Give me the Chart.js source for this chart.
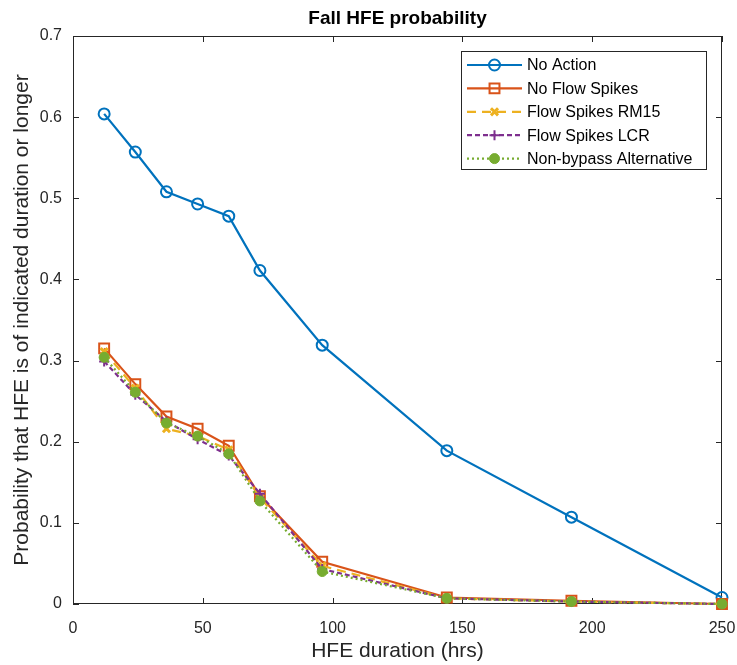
<!DOCTYPE html>
<html><head><meta charset="utf-8">
<script src="https://cdn.jsdelivr.net/npm/chart.js@4.4.0/dist/chart.umd.min.js"></script>
<style>html,body{margin:0;padding:0;background:#fff;}canvas{display:block;}</style>
</head><body>
<canvas id="c" width="737" height="665"></canvas>
<script>
const durations = [12, 24, 36, 48, 60, 72, 96, 144, 192, 250];
const noAction = [0.604, 0.557, 0.508, 0.493, 0.478, 0.411, 0.319, 0.189, 0.107, 0.008];
const noFlowSpikes = [0.315, 0.271, 0.231, 0.216, 0.195, 0.133, 0.052, 0.008, 0.004, 0.0];
const flowSpikesRM15 = [0.311, 0.266, 0.216, 0.207, 0.190, 0.131, 0.047, 0.007, 0.003, 0.0];
const flowSpikesLCR = [0.299, 0.258, 0.225, 0.203, 0.183, 0.136, 0.043, 0.007, 0.003, 0.0];
const nonBypass = [0.304, 0.261, 0.223, 0.207, 0.185, 0.127, 0.040, 0.007, 0.003, 0.0];
const seriesNames = ['No Action', 'No Flow Spikes', 'Flow Spikes RM15', 'Flow Spikes LCR', 'Non-bypass Alternative'];
const xTicks = [0, 50, 100, 150, 200, 250];
const xTickLabels = ['0', '50', '100', '150', '200', '250'];
const yTicks = [0, 0.1, 0.2, 0.3, 0.4, 0.5, 0.6, 0.7];
const yTickLabels = ['0', '0.1', '0.2', '0.3', '0.4', '0.5', '0.6', '0.7'];

const FONT = '"Liberation Sans", Arial, Helvetica, sans-serif';
const AXC = '#262626';

function pts(vals) { return durations.map((d, i) => ({x: d, y: vals[i]})); }

function drawMarker(ctx, style, x, y, r, stroke, fill, lw) {
  ctx.save();
  ctx.setLineDash([]);
  ctx.lineWidth = lw; ctx.strokeStyle = stroke; ctx.fillStyle = fill;
  ctx.beginPath();
  if (style === 'circle') ctx.arc(x, y, r, 0, 2 * Math.PI);
  else if (style === 'rect') { const s = r * Math.SQRT1_2; ctx.rect(x - s, y - s, 2 * s, 2 * s); }
  else if (style === 'cross') { ctx.moveTo(x - r, y); ctx.lineTo(x + r, y); ctx.moveTo(x, y - r); ctx.lineTo(x, y + r); }
  else if (style === 'crossRot') { const s = r * Math.SQRT1_2; ctx.moveTo(x - s, y - s); ctx.lineTo(x + s, y + s); ctx.moveTo(x + s, y - s); ctx.lineTo(x - s, y + s); }
  if ((style === 'circle' || style === 'rect') && fill && fill !== 'transparent') ctx.fill();
  ctx.stroke();
  ctx.restore();
}

const axesBox = {
  id: 'axesBox',
  beforeDatasetsDraw(chart) {
    const {ctx, chartArea: a, scales: {x, y}} = chart;
    ctx.save();
    ctx.strokeStyle = AXC; ctx.lineWidth = 1;
    ctx.strokeRect(a.left + 0.5, a.top + 0.5, a.right - a.left - 1, a.bottom - a.top - 1);
    ctx.beginPath();
    const tl = 6;
    xTicks.forEach(v => {
      const px = Math.round(x.getPixelForValue(v)) + 0.5;
      ctx.moveTo(px, a.bottom); ctx.lineTo(px, a.bottom - tl);
      ctx.moveTo(px, a.top); ctx.lineTo(px, a.top + tl);
    });
    yTicks.forEach(v => {
      const py = Math.round(y.getPixelForValue(v)) + 0.5;
      ctx.moveTo(a.left, py); ctx.lineTo(a.left + tl, py);
      ctx.moveTo(a.right, py); ctx.lineTo(a.right - tl, py);
    });
    ctx.stroke();
    ctx.restore();
  }
};

const boxLegend = {
  id: 'boxLegend',
  afterDraw(chart) {
    const {ctx, chartArea: a} = chart;
    const w = 245, h = 118;
    const left = a.right - 16 - w, top = a.top + 15;
    ctx.save();
    ctx.fillStyle = '#fff';
    ctx.fillRect(left, top, w, h);
    ctx.strokeStyle = AXC; ctx.lineWidth = 1;
    ctx.strokeRect(left + 0.5, top + 0.5, w, h);
    chart.data.datasets.forEach((ds, i) => {
      const cy = top + 14 + i * 23.4;
      ctx.save();
      ctx.strokeStyle = ds.borderColor; ctx.lineWidth = ds.borderWidth;
      ctx.setLineDash(ds.borderDash || []);
      ctx.beginPath(); ctx.moveTo(left + 6, cy); ctx.lineTo(left + 61, cy); ctx.stroke();
      ctx.restore();
      drawMarker(ctx, ds.pointStyle, left + 33.5, cy, ds.pointRadius, ds.pointBorderColor, ds.pointBackgroundColor, ds.pointBorderWidth);
      ctx.fillStyle = '#000';
      ctx.font = '16px ' + FONT;
      ctx.textBaseline = 'middle';
      ctx.textAlign = 'left';
      ctx.fillText(ds.label, left + 66, cy + 1);
    });
    ctx.restore();
  }
};

const colors = ['#0072BD', '#D95319', '#EDB120', '#7E2F8E', '#77AC30'];
const mk = (i, vals, extra) => Object.assign({
  label: seriesNames[i], data: pts(vals), borderColor: colors[i], borderWidth: 2.2,
  pointBorderColor: colors[i], pointBackgroundColor: 'transparent', pointBorderWidth: 2,
  pointRadius: 5, pointHoverRadius: 5, tension: 0, clip: false, order: 5 - i, fill: false
}, extra);

new Chart(document.getElementById('c'), {
  type: 'line',
  data: {
    datasets: [
      mk(0, noAction, {pointStyle: 'circle', pointRadius: 5.5}),
      mk(1, noFlowSpikes, {pointStyle: 'rect', pointRadius: 7}),
      mk(2, flowSpikesRM15, {pointStyle: 'crossRot', pointRadius: 5, borderDash: [9, 6], pointBorderWidth: 3}),
      mk(3, flowSpikesLCR, {pointStyle: 'cross', pointRadius: 5, borderDash: [5, 3]}),
      mk(4, nonBypass, {pointStyle: 'circle', pointRadius: 5, borderDash: [2, 3], pointBackgroundColor: '#77AC30', pointBorderWidth: 1})
    ]
  },
  options: {
    responsive: false,
    animation: false,
    events: [],
    layout: {padding: {left: 0, right: 15, top: 0, bottom: 0}},
    plugins: {
      legend: {display: false},
      tooltip: {enabled: false},
      title: {
        display: true, text: 'Fall HFE probability', fullSize: false, color: '#000',
        font: {family: FONT, size: 19, weight: 'bold', lineHeight: 1.2},
        padding: {top: 7, bottom: 6.2}
      }
    },
    scales: {
      x: {
        type: 'linear', min: 0, max: 250,
        afterBuildTicks: s => { s.ticks = xTicks.map(v => ({value: v})); },
        afterFit: s => { s.height = 61; s.paddingLeft = 0; s.paddingRight = 0; },
        grid: {display: false, drawTicks: false},
        border: {display: false},
        ticks: {color: AXC, padding: 15, font: {family: FONT, size: 16},
          callback: v => xTickLabels[xTicks.indexOf(v)], maxRotation: 0, autoSkip: false},
        title: {display: true, text: 'HFE duration (hrs)', color: AXC,
          font: {family: FONT, size: 21, lineHeight: 1.2}, padding: {top: 0, bottom: 1.4}}
      },
      y: {
        type: 'linear', min: 0, max: 0.7,
        afterBuildTicks: s => { s.ticks = yTicks.map(v => ({value: v})); },
        afterFit: s => { s.width = 73; s.paddingTop = 0; s.paddingBottom = 0; },
        grid: {display: false, drawTicks: false},
        border: {display: false},
        ticks: {color: AXC, padding: 11, font: {family: FONT, size: 16},
          callback: v => yTickLabels[yTicks.indexOf(v)], autoSkip: false},
        title: {display: true, text: 'Probability that HFE is of indicated duration or longer', color: AXC,
          font: {family: FONT, size: 21, lineHeight: 1.2}, padding: {top: 9.4, bottom: 0}}
      }
    }
  },
  plugins: [axesBox, boxLegend]
});
</script>
</body></html>
